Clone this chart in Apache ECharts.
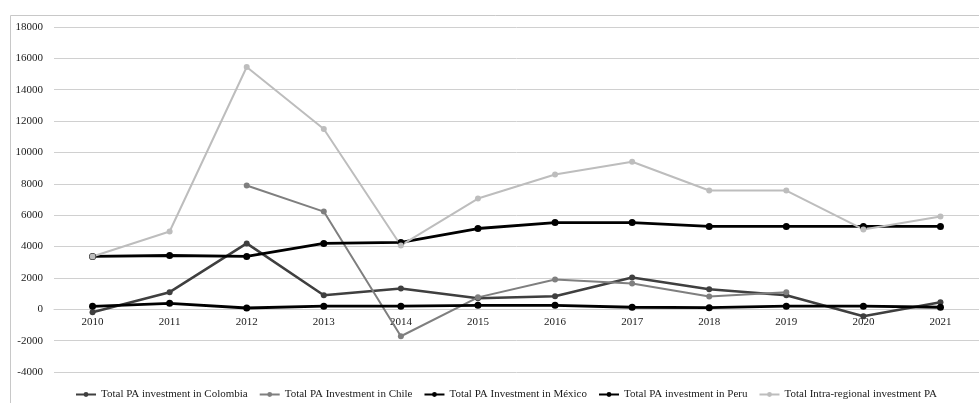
<!DOCTYPE html>
<html lang="en">
<head>
    <meta charset="utf-8"/>
    <script src="https://cdn.jsdelivr.net/npm/echarts@6/dist/echarts.min.js"></script>
</head>
<body style="margin: 0; background: #fff">
<div id="container" style="width: 979px; height: 403px;"></div>
<script type="text/javascript">
    // data
    var years = ['2010', '2011', '2012', '2013', '2014', '2015', '2016', '2017', '2018', '2019', '2020', '2021'];
    var colombia = [-190, 1090, 4200, 890, 1330, 700, 830, 2030, 1270, 890, -440, 450];
    var chile = [null, null, 7890, 6230, -1720, 760, 1900, 1650, 820, 1080, null, null];
    var mexico = [3370, 3430, 3370, 4200, 4260, 5150, 5530, 5530, 5280, 5280, 5280, 5280];
    var peru = [190, 380, 80, 200, 200, 250, 250, 130, 100, 200, 200, 130];
    var intra = [3370, 4960, 15450, 11500, 4070, 7060, 8590, 9410, 7570, 7570, 5090, 5920];

    var names = ['Total PA investment in Colombia', 'Total PA Investment in Chile',
        'Total PA Investment in México', 'Total PA investment in Peru', 'Total Intra-regional investment PA'];

    var myChart = echarts.init(document.getElementById('container'));

    function line(name, data, color, width, size) {
        return {
            name: name,
            type: 'line',
            data: data,
            symbol: 'circle',
            symbolSize: size,
            connectNulls: false,
            lineStyle: {color: color, width: width},
            itemStyle: {color: color},
            emphasis: {disabled: true}
        };
    }

    var option = {
        animation: false,
        textStyle: {fontFamily: 'Liberation Serif'},
        graphic: [{
            type: 'rect',
            shape: {x: 10.5, y: 15.5, width: 990, height: 400},
            style: {fill: 'none', stroke: '#c8c8c8', lineWidth: 1}
        }],
        grid: {left: 54, right: -2, top: 27, bottom: 31, containLabel: false},
        legend: {
            data: names,
            left: 75,
            top: 389,
            width: 900,
            itemWidth: 20,
            itemHeight: 6,
            itemGap: 11,
            padding: 0,
            textStyle: {fontSize: 11, color: '#1a1a1a', fontFamily: 'Liberation Serif'}
        },
        xAxis: {
            type: 'category',
            data: years,
            offset: -63,
            axisLine: {onZero: false, lineStyle: {color: '#d0d0d0', width: 1}},
            axisTick: {show: false},
            axisLabel: {fontSize: 11, color: '#1a1a1a', margin: 8}
        },
        yAxis: {
            type: 'value',
            min: -4000,
            max: 18000,
            interval: 2000,
            axisLabel: {
                fontSize: 11, color: '#1a1a1a', margin: 11,
                formatter: function (v) { return String(v); }
            },
            splitLine: {lineStyle: {color: '#d0d0d0', width: 1}}
        },
        series: [
            line(names[0], colombia, '#3f3f3f', 2.5, 6),
            line(names[1], chile, '#7f7f7f', 2, 6),
            line(names[2], mexico, '#000000', 2.8, 7),
            line(names[3], peru, '#000000', 2.8, 7),
            line(names[4], intra, '#bdbdbd', 2, 6)
        ]
    };

    myChart.setOption(option);
</script>
</body>
</html>
